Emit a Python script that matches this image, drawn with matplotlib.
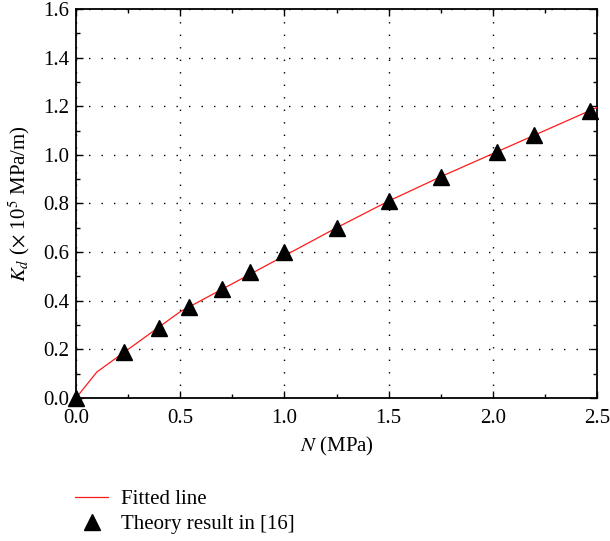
import matplotlib
matplotlib.use('Agg')
import matplotlib.pyplot as plt
from matplotlib.ticker import MultipleLocator

plt.rcParams['font.family'] = ['Liberation Serif', 'DejaVu Serif']
plt.rcParams['mathtext.fontset'] = 'stix'

# Fitted line
fit_x = [0.0, 0.1, 0.25, 0.5, 0.75, 1.0, 1.25, 1.5, 1.75, 2.0, 2.25, 2.5]
fit_y = [0.0, 0.107, 0.20, 0.355, 0.47, 0.585, 0.70, 0.81, 0.91, 1.005, 1.10, 1.195]

# Theory result in [16]
theory_x = [0.0, 0.23, 0.40, 0.54, 0.70, 0.835, 1.0, 1.25, 1.5, 1.75, 2.02, 2.2, 2.465]
theory_y = [0.0, 0.19, 0.29, 0.375, 0.45, 0.52, 0.60, 0.70, 0.81, 0.91, 1.01, 1.08, 1.18]

FONT_SIZE = 15

fig = plt.figure(figsize=(6.10, 5.41), dpi=100)
ax = fig.add_axes([0.1246, 0.2643, 0.8541, 0.7191])

ax.plot(fit_x, fit_y, color='#ff1a1a', linewidth=0.9, label='Fitted line', zorder=3)
ax.plot(theory_x, theory_y, linestyle='none', marker='^', color='black',
        markersize=11.5, label='Theory result in [16]', zorder=4, clip_on=False)

ax.set_xlim(0, 2.5)
ax.set_ylim(0, 1.6)
ax.xaxis.set_major_locator(MultipleLocator(0.5))
ax.xaxis.set_minor_locator(MultipleLocator(0.25))
ax.yaxis.set_major_locator(MultipleLocator(0.2))
ax.yaxis.set_minor_locator(MultipleLocator(0.1))
ax.xaxis.set_major_formatter(lambda v, p: f"{v:.1f}")
ax.yaxis.set_major_formatter(lambda v, p: f"{v:.1f}")

ax.tick_params(which='both', direction='in', top=True, right=True,
               labelsize=FONT_SIZE, colors='black')
ax.tick_params(which='major', length=5, width=1)
ax.tick_params(which='minor', length=3, width=1)
ax.tick_params(axis='x', which='major', pad=8)
ax.tick_params(axis='y', which='major', pad=5)

ax.grid(True, which='major', color='black', linestyle=(0, (1, 8)), linewidth=1.0)

for spine in ax.spines.values():
    spine.set_linewidth(1.3)
    spine.set_color('black')

ax.set_xlabel(r'$N$ (MPa)', fontsize=FONT_SIZE, labelpad=5)
ax.set_ylabel(r'$K_d$ ($\times$ 10$^5$ MPa/m)', fontsize=FONT_SIZE, labelpad=8)

ax.legend(loc='upper left', bbox_to_anchor=(-0.018, -0.214), frameon=False,
          fontsize=FONT_SIZE, handlelength=1.6, handletextpad=0.63,
          labelspacing=0.25, borderaxespad=0, markerscale=0.95)

fig.savefig('out.png', dpi=100)
